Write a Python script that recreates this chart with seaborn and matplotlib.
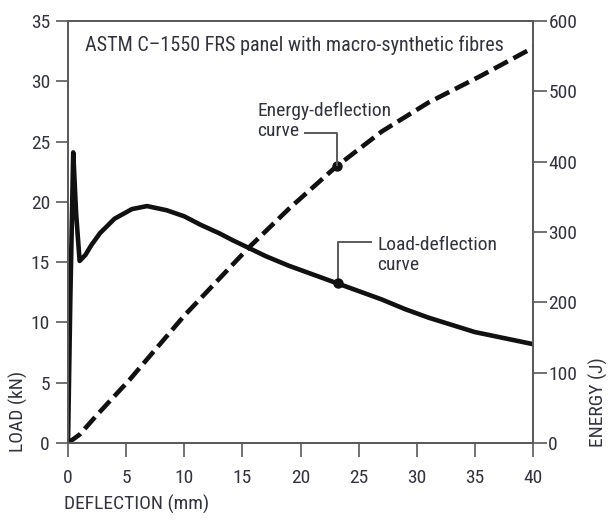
import numpy as np
import pandas as pd
import matplotlib
matplotlib.use("Agg")
import matplotlib.pyplot as plt
import seaborn as sns

# ---- data ----
load_defl = [0, 0.2, 0.45, 0.7, 1.0, 1.5, 2.0, 2.75, 4.0, 5.5, 6.8, 8.5, 10.0, 11.4, 13.0,
             14.2, 15.5, 17.0, 19.0, 21.0, 23.0, 25.0, 27.0, 29.0, 31.0, 33.0, 35.0, 37.5, 40.0]
load_kn = [0, 12.0, 24.1, 19.0, 15.1, 15.6, 16.4, 17.4, 18.6, 19.4, 19.65, 19.3, 18.8, 18.1, 17.4,
           16.8, 16.2, 15.5, 14.7, 14.0, 13.3, 12.6, 11.9, 11.1, 10.4, 9.8, 9.2, 8.7, 8.2]
energy_defl = [0, 1.0, 2.5, 5.3, 10.0, 15.5, 19.0, 23.0, 27.0, 31.0, 35.4, 40.0]
energy_j = [0, 12, 40, 90, 181, 277, 333, 392, 443, 484, 521, 562]

x_ticks = [0, 5, 10, 15, 20, 25, 30, 35, 40]
load_ticks = [0, 5, 10, 15, 20, 25, 30, 35]
energy_ticks = [0, 100, 200, 300, 400, 500, 600]

title_text = "ASTM C\u20131550 FRS panel with macro-synthetic fibres"
energy_label = "Energy-deflection\ncurve"
load_label = "Load-deflection\ncurve"

load_df = pd.DataFrame({"defl": load_defl, "load": load_kn})
energy_df = pd.DataFrame({"defl": energy_defl, "energy": energy_j})

sns.set_theme(style="ticks")
FONT = ["Roboto Condensed", "Liberation Sans Narrow", "Liberation Sans", "DejaVu Sans"]
plt.rcParams["font.family"] = FONT
TXT = "#33333f"
SP = "#5a5a5a"
FS = 14

fig = plt.figure(figsize=(6.12, 5.21), dpi=100)
ax = fig.add_axes([68 / 612, 1 - 443 / 521, 465 / 612, 422 / 521])
ax2 = ax.twinx()

sns.lineplot(data=load_df, x="defl", y="load", ax=ax, color="#111111", lw=3.3,
             estimator=None, sort=False)
sns.lineplot(data=energy_df, x="defl", y="energy", ax=ax2, color="#111111", lw=3.3,
             estimator=None, sort=False)
ax2.lines[0].set_dashes((3.4, 1.4))

ax.set_xlim(0, 40)
ax.set_ylim(0, 35)
ax2.set_ylim(0, 600)
ax.set_xticks(x_ticks)
ax.set_yticks(load_ticks)
ax2.set_yticks(energy_ticks)
ax.set_xlabel("")
ax.set_ylabel("")
ax2.set_ylabel("")

for a in (ax, ax2):
    for s in a.spines.values():
        s.set_visible(True)
        s.set_color(SP)
        s.set_linewidth(1.3)
ax.tick_params(axis="y", direction="out", length=9, width=1.2, color=SP,
               labelsize=FS, labelcolor=TXT, pad=4)
ax.tick_params(axis="x", direction="out", length=10, width=1.2, color=SP,
               labelsize=FS, labelcolor=TXT, pad=9)
ax2.tick_params(axis="y", direction="out", length=10, width=1.2, color=SP,
                labelsize=FS, labelcolor=TXT, pad=1)

# annotations
ax.text(1.46, 33.0, title_text, fontsize=14.5, color=TXT, ha="left", va="center")

# energy leader, in figure space derived from ax2's data transform
e_dot_x = 23.1
e_dot_y = float(np.interp(e_dot_x, energy_defl, energy_j))
e_elbow = 441.0
trans = ax2.transData
p0 = trans.transform((20.3, e_elbow))
p1 = trans.transform((e_dot_x, e_elbow))
p2 = trans.transform((e_dot_x, e_dot_y))
inv = fig.transFigure.inverted()
q = inv.transform(np.array([p0, p1, p2]))
fig.add_artist(plt.Line2D(q[:, 0], q[:, 1], color=SP, lw=1.4, zorder=20,
                          solid_capstyle="butt"))
ax2.scatter([e_dot_x], [e_dot_y], s=42, color="#111111", zorder=6)
ax2.text(16.3, 458, energy_label, fontsize=FS, color=TXT, ha="left", va="center",
         linespacing=1.1)

# load leader
l_dot_x = 23.2
l_dot_y = float(np.interp(l_dot_x, load_defl, load_kn))
ax.plot([26.15, l_dot_x, l_dot_x], [16.7, 16.7, l_dot_y],
        color=SP, lw=1.4, zorder=5, solid_capstyle="butt")
ax.scatter([l_dot_x], [l_dot_y], s=42, color="#111111", zorder=6)
ax.text(26.6, 15.6, load_label, fontsize=FS, color=TXT, ha="left", va="center",
        linespacing=1.1)

# axis titles
fig.text(64 / 612, 1 - 504 / 521, "DEFLECTION (mm)", fontsize=FS, color=TXT,
         ha="left", va="center")
fig.text(18 / 612, 1 - 452 / 521, "LOAD (kN)", fontsize=FS, color=TXT,
         ha="center", va="bottom", rotation=90)
fig.text(598 / 612, 1 - 447 / 521, "ENERGY (J)", fontsize=FS, color=TXT,
         ha="center", va="bottom", rotation=90)

fig.savefig("out.png", dpi=100)
